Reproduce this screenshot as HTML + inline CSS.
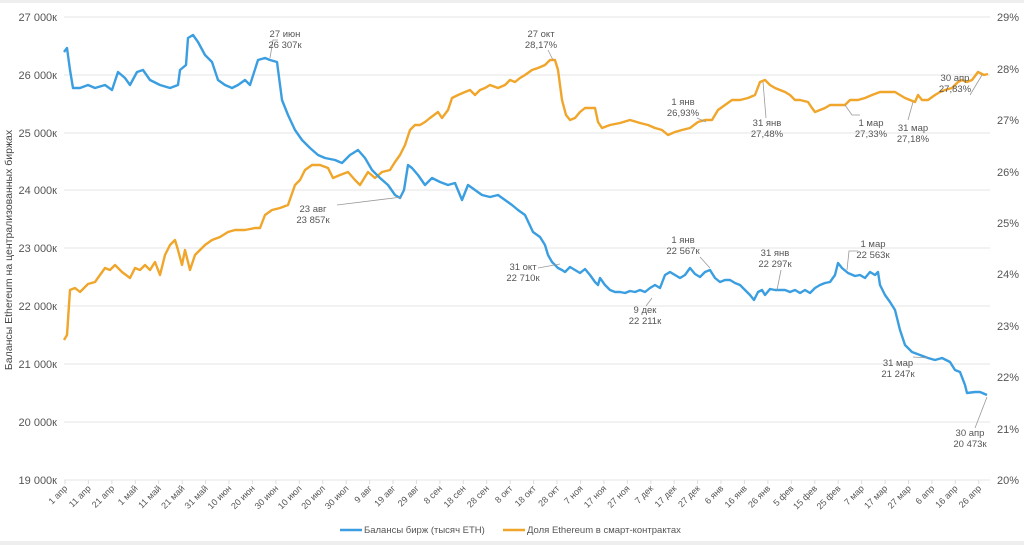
<!DOCTYPE html>
<html><head><meta charset="utf-8"><style>
html,body{margin:0;padding:0;background:#fff}
svg{display:block;font-family:"Liberation Sans",sans-serif}
.yl{font-size:11px;fill:#555;text-anchor:end}
.yr{font-size:11px;fill:#555}
.xl{font-size:9px;fill:#555;text-anchor:end}
.an{font-size:9.5px;fill:#555;text-anchor:middle}
.g{stroke:#e6e6e6;stroke-width:1}
.ld{stroke:#999;stroke-width:0.8;fill:none}
.tk{stroke:#ddd;stroke-width:1}
</style></head><body>
<svg width="1024" height="545" viewBox="0 0 1024 545">
<rect x="0" y="0" width="1024" height="3" fill="#eee"/>
<rect x="0" y="541" width="1024" height="4" fill="#eee"/>
<g>
<line class="g" x1="64" y1="17" x2="990" y2="17"/>
<line class="g" x1="64" y1="75" x2="990" y2="75"/>
<line class="g" x1="64" y1="133" x2="990" y2="133"/>
<line class="g" x1="64" y1="190" x2="990" y2="190"/>
<line class="g" x1="64" y1="248" x2="990" y2="248"/>
<line class="g" x1="64" y1="306" x2="990" y2="306"/>
<line class="g" x1="64" y1="364" x2="990" y2="364"/>
<line class="g" x1="64" y1="422" x2="990" y2="422"/>
<line class="g" x1="64" y1="480" x2="990" y2="480"/>
</g>
<g class="yl">
<text x="57" y="21">27 000к</text><text x="57" y="79">26 000к</text><text x="57" y="137">25 000к</text>
<text x="57" y="194">24 000к</text><text x="57" y="252">23 000к</text><text x="57" y="310">22 000к</text>
<text x="57" y="368">21 000к</text><text x="57" y="426">20 000к</text><text x="57" y="484">19 000к</text>
</g>
<g class="yr">
<text x="997" y="21">29%</text><text x="997" y="73">28%</text><text x="997" y="124">27%</text>
<text x="997" y="176">26%</text><text x="997" y="227">25%</text><text x="997" y="278">24%</text>
<text x="997" y="330">23%</text><text x="997" y="381">22%</text><text x="997" y="433">21%</text>
<text x="997" y="484">20%</text>
</g>
<text transform="translate(12,250) rotate(-90)" font-size="10.5" fill="#444" text-anchor="middle">Балансы Ethereum на централизованных биржах</text>
<g class="xl">
<text transform="translate(68,489) rotate(-45)">1 апр</text>
<text transform="translate(91.4,489) rotate(-45)">11 апр</text>
<text transform="translate(114.9,489) rotate(-45)">21 апр</text>
<text transform="translate(138.3,489) rotate(-45)">1 май</text>
<text transform="translate(161.7,489) rotate(-45)">11 май</text>
<text transform="translate(185.2,489) rotate(-45)">21 май</text>
<text transform="translate(208.6,489) rotate(-45)">31 май</text>
<text transform="translate(232,489) rotate(-45)">10 июн</text>
<text transform="translate(255.4,489) rotate(-45)">20 июн</text>
<text transform="translate(278.9,489) rotate(-45)">30 июн</text>
<text transform="translate(302.3,489) rotate(-45)">10 июл</text>
<text transform="translate(325.7,489) rotate(-45)">20 июл</text>
<text transform="translate(349.2,489) rotate(-45)">30 июл</text>
<text transform="translate(372.6,489) rotate(-45)">9 авг</text>
<text transform="translate(396,489) rotate(-45)">19 авг</text>
<text transform="translate(419.5,489) rotate(-45)">29 авг</text>
<text transform="translate(442.9,489) rotate(-45)">8 сен</text>
<text transform="translate(466.3,489) rotate(-45)">18 сен</text>
<text transform="translate(489.7,489) rotate(-45)">28 сен</text>
<text transform="translate(513.2,489) rotate(-45)">8 окт</text>
<text transform="translate(536.6,489) rotate(-45)">18 окт</text>
<text transform="translate(560,489) rotate(-45)">28 окт</text>
<text transform="translate(583.5,489) rotate(-45)">7 ноя</text>
<text transform="translate(606.9,489) rotate(-45)">17 ноя</text>
<text transform="translate(630.3,489) rotate(-45)">27 ноя</text>
<text transform="translate(653.8,489) rotate(-45)">7 дек</text>
<text transform="translate(677.2,489) rotate(-45)">17 дек</text>
<text transform="translate(700.6,489) rotate(-45)">27 дек</text>
<text transform="translate(724,489) rotate(-45)">6 янв</text>
<text transform="translate(747.5,489) rotate(-45)">16 янв</text>
<text transform="translate(770.9,489) rotate(-45)">26 янв</text>
<text transform="translate(794.3,489) rotate(-45)">5 фев</text>
<text transform="translate(817.8,489) rotate(-45)">15 фев</text>
<text transform="translate(841.2,489) rotate(-45)">25 фев</text>
<text transform="translate(864.6,489) rotate(-45)">7 мар</text>
<text transform="translate(888.1,489) rotate(-45)">17 мар</text>
<text transform="translate(911.5,489) rotate(-45)">27 мар</text>
<text transform="translate(934.9,489) rotate(-45)">6 апр</text>
<text transform="translate(958.3,489) rotate(-45)">16 апр</text>
<text transform="translate(981.8,489) rotate(-45)">26 апр</text>
</g>
<path class="tk" d="M65,480v4M88.4,480v4M111.9,480v4M135.3,480v4M158.7,480v4M182.2,480v4M205.6,480v4M229,480v4M252.4,480v4M275.9,480v4M299.3,480v4M322.7,480v4M346.2,480v4M369.6,480v4M393,480v4M416.5,480v4M439.9,480v4M463.3,480v4M486.7,480v4M510.2,480v4M533.6,480v4M557,480v4M580.5,480v4M603.9,480v4M627.3,480v4M650.8,480v4M674.2,480v4M697.6,480v4M721,480v4M744.5,480v4M767.9,480v4M791.3,480v4M814.8,480v4M838.2,480v4M861.6,480v4M885.1,480v4M908.5,480v4M931.9,480v4M955.3,480v4M978.8,480v4"/>
<polyline fill="none" stroke="#f0a52b" stroke-width="2.4" stroke-linejoin="round" points="64,340 67,335 70,290 75,288 80,292 88,284 95,282 100,275 105,268 110,270 115,265 122,272 130,278 135,268 140,270 145,265 150,270 155,262 160,275 165,255 170,245 175,240 178,250 182,265 185,250 190,270 195,255 200,250 205,245 212,240 220,237 228,232 235,230 245,230 255,228 260,228 265,215 272,210 280,208 288,205 295,185 300,180 305,170 312,165 320,165 328,168 333,178 340,175 348,172 355,180 360,185 368,172 375,178 382,172 390,170 395,162 400,155 405,145 410,130 415,125 420,125 425,122 430,118 438,112 442,118 448,110 452,98 458,95 465,92 470,90 475,95 480,90 485,88 490,85 498,88 505,85 510,80 515,82 520,78 525,75 532,70 538,68 545,65 550,60 555,60 558,70 562,100 566,115 570,120 575,118 580,112 585,108 590,108 595,108 598,122 602,128 610,125 620,123 630,120 640,123 648,125 655,128 662,130 668,135 675,132 682,130 690,128 698,122 705,120 712,120 718,110 725,105 732,100 740,100 748,98 755,95 760,82 765,80 770,85 775,88 780,90 785,92 790,95 795,100 800,100 808,102 812,108 815,112 820,110 825,108 830,105 838,105 845,105 850,100 858,100 865,98 872,95 880,92 888,92 895,92 900,95 905,98 910,100 915,102 918,95 922,100 928,100 935,95 940,92 945,90 952,88 958,82 962,80 967,82 972,80 978,72 984,75 988,74"/>
<polyline fill="none" stroke="#3a9ee0" stroke-width="2.4" stroke-linejoin="round" points="64,52 67,48 70,70 73,88 80,88 88,85 95,88 105,85 112,90 118,72 125,78 130,85 137,72 143,70 150,80 160,85 170,88 178,85 180,70 186,65 188,38 193,35 198,42 205,55 212,62 218,80 225,85 232,88 238,85 245,80 250,85 258,60 265,58 270,60 277,62 282,100 288,115 295,130 302,140 310,148 318,155 325,158 335,160 342,163 350,155 358,150 365,158 372,170 380,178 388,185 395,195 400,198 404,190 408,165 412,168 418,175 425,185 432,178 440,182 448,185 455,183 462,200 468,185 475,190 482,195 490,197 498,195 505,200 512,205 518,210 525,215 533,232 540,237 545,245 548,255 552,262 558,268 562,270 565,272 570,267 575,270 580,273 585,269 590,275 595,282 598,285 600,278 605,285 610,290 615,292 620,292 625,293 630,291 635,292 640,290 645,292 650,288 655,285 660,288 665,275 670,272 675,275 680,278 685,275 690,268 695,274 700,277 705,272 710,270 715,278 720,282 725,280 730,280 735,283 740,285 745,290 750,295 754,300 758,292 762,290 765,295 770,289 775,290 780,290 785,290 790,292 795,290 800,293 805,290 810,293 815,288 820,285 825,283 830,282 835,275 838,263 842,268 848,273 855,276 860,275 865,278 870,272 875,275 878,272 880,285 885,295 890,302 895,310 900,330 905,345 912,352 920,355 928,358 935,360 942,358 950,362 955,370 960,372 965,385 967,393 975,392 980,392 987,395"/>
<g class="ld">
<polyline points="270,58 273,40 278,40"/>
<polyline points="337,205 402,197"/>
<polyline points="553,60 548,50"/>
<polyline points="697,118 706,122"/>
<polyline points="763,82 766,118"/>
<polyline points="845,105 852,115 860,115"/>
<polyline points="913,102 908,120"/>
<polyline points="970,95 982,75"/>
<polyline points="538,268 560,264"/>
<polyline points="652,298 646,306"/>
<polyline points="700,257 710,268"/>
<polyline points="781,270 777,290"/>
<polyline points="858,251 849,251 847,270"/>
<polyline points="913,357 928,358"/>
<polyline points="975,428 987,397"/>
</g>
<g class="an">
<text x="285" y="37">27 июн</text><text x="285" y="48">26 307к</text>
<text x="313" y="212">23 авг</text><text x="313" y="223">23 857к</text>
<text x="541" y="37">27 окт</text><text x="541" y="48">28,17%</text>
<text x="683" y="105">1 янв</text><text x="683" y="116">26,93%</text>
<text x="767" y="126">31 янв</text><text x="767" y="137">27,48%</text>
<text x="871" y="126">1 мар</text><text x="871" y="137">27,33%</text>
<text x="913" y="131">31 мар</text><text x="913" y="142">27,18%</text>
<text x="955" y="81">30 апр</text><text x="955" y="92">27,83%</text>
<text x="523" y="270">31 окт</text><text x="523" y="281">22 710к</text>
<text x="645" y="313">9 дек</text><text x="645" y="324">22 211к</text>
<text x="683" y="243">1 янв</text><text x="683" y="254">22 567к</text>
<text x="775" y="256">31 янв</text><text x="775" y="267">22 297к</text>
<text x="873" y="247">1 мар</text><text x="873" y="258">22 563к</text>
<text x="898" y="366">31 мар</text><text x="898" y="377">21 247к</text>
<text x="970" y="436">30 апр</text><text x="970" y="447">20 473к</text>
</g>
<line x1="340" y1="530" x2="362" y2="530" stroke="#3a9ee0" stroke-width="2.5"/>
<text x="364" y="533" font-size="9.5" fill="#555">Балансы бирж (тысяч ETH)</text>
<line x1="503" y1="530" x2="525" y2="530" stroke="#f0a52b" stroke-width="2.5"/>
<text x="527" y="533" font-size="9.5" fill="#555">Доля Ethereum в смарт-контрактах</text>
</svg>
</body></html>
